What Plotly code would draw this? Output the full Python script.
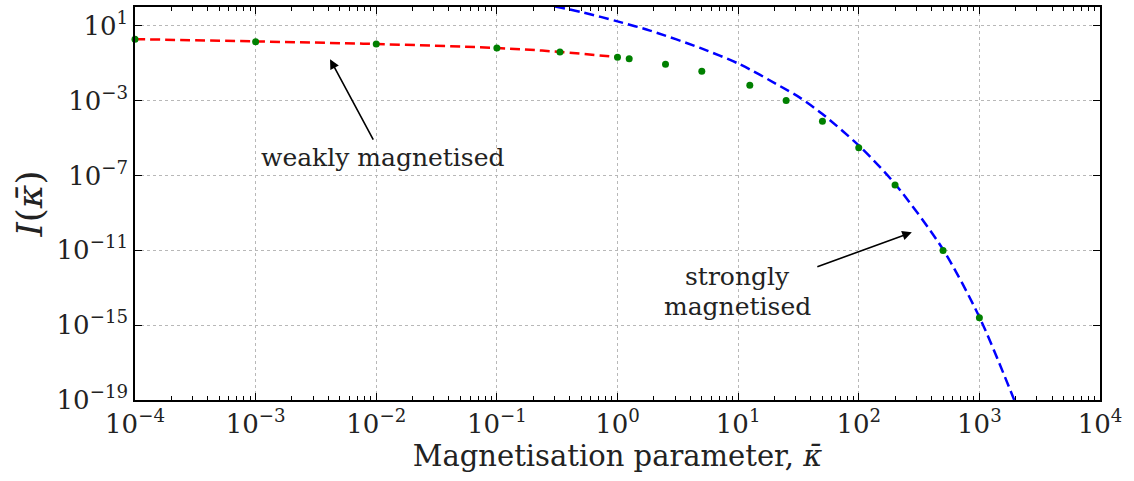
import plotly.graph_objects as go

# --- data ---
kappa_pts = [1e-4, 1e-3, 1e-2, 0.1, 1/3, 1.0, 1.25, 2.5, 5.0, 12.5, 25.0, 50.0, 100.0, 200.0, 500.0, 1000.0]
I_pts = [1.91, 1.41, 1.07, 0.646, 0.398, 0.209, 0.170, 0.087, 0.037, 6.5e-3, 1.0e-3, 7.8e-5, 3.0e-6, 3.1e-8, 9.8e-12, 2.5e-15]

weak_kappa = [1e-4, 1e-3, 1e-2, 0.1, 0.33, 1.0]
weak_I = [1.91, 1.45, 1.05, 0.646, 0.40, 0.209]

strong_kappa = [0.304, 0.52, 1.0, 1.86, 4.84, 10.4, 22.3, 32.7, 50.0, 100.0, 200.0, 500.0, 1000.0, 1945.0]
strong_I = [1.07e2, 5.1e1, 1.7e1, 5.5, 6.5e-1, 8.5e-2, 5.9e-3, 1.4e-3, 1.9e-4, 4.0e-6, 3.5e-8, 1.1e-11, 2.7e-15, 1.0e-19]

x_tick_exps = [-4, -3, -2, -1, 0, 1, 2, 3, 4]
y_tick_exps = [-19, -15, -11, -7, -3, 1]

x_title = "Magnetisation parameter, <i>κ̄</i>"
y_title = "<i>I</i>(<i>κ̄</i>)"

FONT = "DejaVu Serif"


def pow_label(e):
    s = str(e).replace("-", "\u2212")
    return f"10<sup>{s}</sup>"


fig = go.Figure()
fig.add_trace(go.Scatter(x=weak_kappa, y=weak_I, mode="lines",
                         line=dict(color="#ff0000", width=2.5, dash="10px,5px", shape="spline"), showlegend=False))
fig.add_trace(go.Scatter(x=strong_kappa, y=strong_I, mode="lines",
                         line=dict(color="#0000ff", width=2.5, dash="10px,5px", shape="spline", smoothing=0.8),
                         showlegend=False))
fig.add_trace(go.Scatter(x=kappa_pts, y=I_pts, mode="markers", marker=dict(color="#008000", size=7),
                         showlegend=False, cliponaxis=False))

axis_common = dict(
    type="log", showline=True, linecolor="black", linewidth=1.5, mirror="allticks",
    ticks="inside", ticklen=7, tickwidth=1, tickcolor="black",
    showgrid=True, gridcolor="#b8b8b8", griddash="dot", gridwidth=1,
    zeroline=False,
    tickfont=dict(family=FONT, size=26, color="#222222"),
)

fig.update_xaxes(**axis_common, range=[-4, 4],
                 tickmode="array", tickvals=[10.0 ** e for e in x_tick_exps],
                 ticktext=[pow_label(e) for e in x_tick_exps],
                 minor=dict(ticks="inside", ticklen=4, tickcolor="black", dtick="D1", showgrid=False),
                 title=dict(text=x_title, font=dict(family=FONT, size=29, color="#222222"), standoff=8))
fig.update_yaxes(**axis_common, range=[-19, 2],
                 tickmode="array", tickvals=[10.0 ** e for e in y_tick_exps],
                 ticktext=[pow_label(e) for e in y_tick_exps],
                 title=dict(text=y_title, font=dict(family=FONT, size=36, color="#222222"), standoff=3))

ann_font = dict(family=FONT, size=25, color="#222222")
fig.add_annotation(x=-2.383, y=-0.79, xref="x", yref="y", ax=44, ay=82, text="", showarrow=True,
                   arrowhead=2, arrowsize=1.2, arrowwidth=1.6, arrowcolor="black")
fig.add_annotation(x=2.440, y=-10.04, xref="x", yref="y", ax=-96, ay=35, text="", showarrow=True,
                   arrowhead=2, arrowsize=1.2, arrowwidth=1.6, arrowcolor="black")
fig.add_annotation(x=-1.948, y=-6.06, xref="x", yref="y", text="weakly magnetised", showarrow=False, font=ann_font)
fig.add_annotation(x=0.996, y=-12.4, xref="x", yref="y", text="strongly", showarrow=False, font=ann_font)
fig.add_annotation(x=0.996, y=-14.0, xref="x", yref="y", text="magnetised", showarrow=False, font=ann_font)

fig.update_layout(
    width=1134, height=481,
    margin=dict(l=135, r=34, t=5, b=81),
    plot_bgcolor="white", paper_bgcolor="white",
    font=dict(family=FONT, color="#222222"),
)

fig.write_html("out.html")
